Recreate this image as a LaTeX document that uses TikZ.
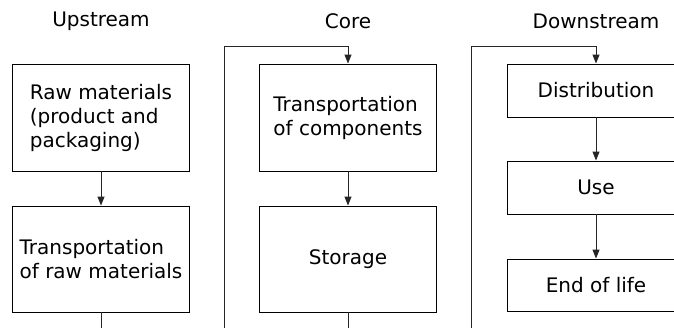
\documentclass[tikz,border=0pt]{standalone}
\usepackage{fontspec}
\setmainfont{DejaVu Sans}
\usetikzlibrary{arrows.meta,positioning}

\begin{document}
\begin{tikzpicture}[x=1pt,y=-1pt,
  stagebox/.style={draw,line width=0.9pt,minimum width=177pt,align=left,
    font=\fontsize{20}{24}\selectfont},
  head/.style={font=\fontsize{20}{24}\selectfont},
  flow/.style={-{Triangle[length=9pt,width=7pt]},line width=1pt,draw=black!85},
  wire/.style={line width=1pt,draw=black!85}]
\useasboundingbox (0,0) rectangle (674,328);
\clip (0,0) rectangle (674,328);

% column headings
\node[head] (up) at (101,21) {Upstream};
\node[head] (core) at (348,21) {Core};
\node[head] (down) at (596,21) {Downstream};

% upstream
\node[stagebox,minimum height=107pt] (raw) at (101,117.5) {Raw materials\\(product and\\packaging)};
\node[stagebox,minimum height=106pt] (trraw) at (101,259) {Transportation\\of raw materials};

% core
\node[stagebox,minimum height=107pt] (trcomp) at (348,117.5) {Transportation\\of components};
\node[stagebox,minimum height=106pt] (store) at (348,259) {Storage};

% downstream
\node[stagebox,minimum height=53pt] (dist) at (596,90.5) {Distribution};
\node[stagebox,minimum height=53pt] (use) at (596,187.5) {Use};
\node[stagebox,minimum height=52pt] (eol) at (596,285) {End of life};

% links running off the bottom
\coordinate (upOut) at (101,330);
\coordinate (coreOut) at (348,330);
\coordinate (coreIn) at (224,330);
\coordinate (coreTurn) at (224,47);
\coordinate (downIn) at (471,330);
\coordinate (downTurn) at (471,47);

\draw[flow] (raw) -- (trraw);
\draw[wire] (trraw.south) -- (upOut);

\draw[flow] (coreIn) -- (coreTurn) -| (trcomp.north);
\draw[flow] (trcomp) -- (store);
\draw[wire] (store.south) -- (coreOut);

\draw[flow] (downIn) -- (downTurn) -| (dist.north);
\draw[flow] (dist) -- (use);
\draw[flow] (use) -- (eol);
\end{tikzpicture}
\end{document}
